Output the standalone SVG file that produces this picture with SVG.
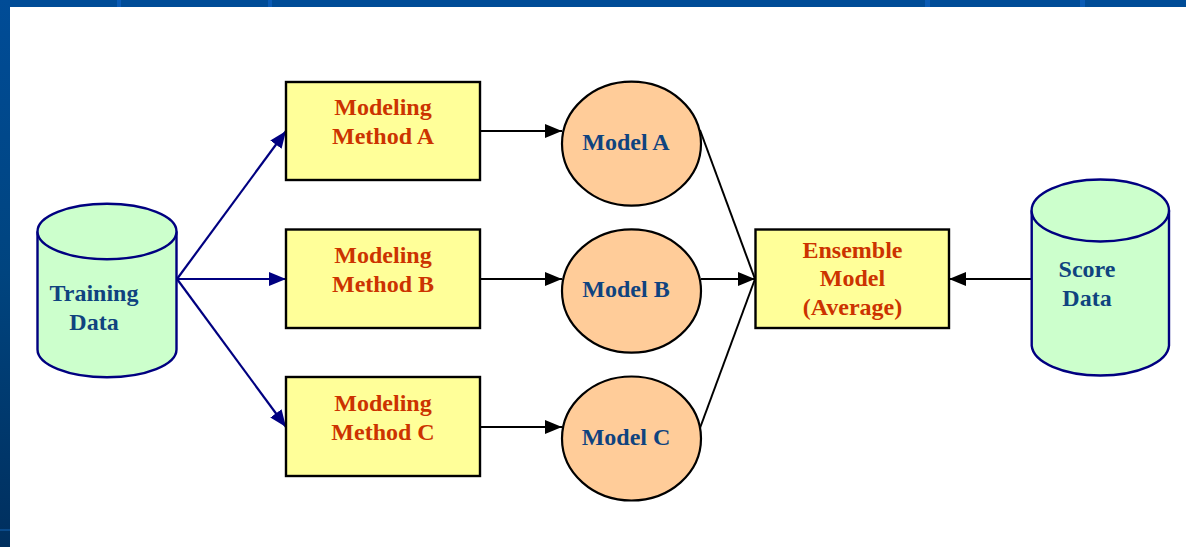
<svg xmlns="http://www.w3.org/2000/svg" width="1186" height="547" viewBox="0 0 1186 547">
  <defs>
    <linearGradient id="leftbar" x1="0" y1="0" x2="0" y2="1">
      <stop offset="0" stop-color="#004C97"/>
      <stop offset="0.5" stop-color="#00447F"/>
      <stop offset="1" stop-color="#002F5E"/>
    </linearGradient>
    <marker id="ahBlack" markerUnits="userSpaceOnUse" markerWidth="17" markerHeight="14" viewBox="0 0 17 14" refX="17" refY="7" orient="auto">
      <path d="M0,0 L17,7 L0,14 Z" fill="#000"/>
    </marker>
    <marker id="ahNavy" markerUnits="userSpaceOnUse" markerWidth="17" markerHeight="14" viewBox="0 0 17 14" refX="17" refY="7" orient="auto">
      <path d="M0,0 L17,7 L0,14 Z" fill="#000080"/>
    </marker>
    <style>
      .box { fill: #FFFF99; stroke: #000; stroke-width: 2.4; }
      .model { fill: #FFCC99; stroke: #000; stroke-width: 2.2; }
      .cyl { fill: #CCFFCC; stroke: #000080; stroke-width: 2.4; }
      .red { font-family: "Liberation Serif", serif; font-weight: bold; font-size: 24px; fill: #CC3300; text-anchor: middle; }
      .blue { font-family: "Liberation Serif", serif; font-weight: bold; font-size: 24px; fill: #0F437F; text-anchor: middle; }
      .blk { stroke: #000; stroke-width: 2; fill: none; }
      .nav { stroke: #000080; stroke-width: 2.2; fill: none; }
    </style>
  </defs>

  <g id="background">
    <rect x="0" y="0" width="1186" height="547" fill="#FFFFFF"/>
    <rect x="0" y="0" width="1186" height="7" fill="#004C97"/>
    <rect x="0" y="0" width="10" height="547" fill="url(#leftbar)"/>
    <rect x="117" y="0" width="4" height="7" fill="#0A5BB5"/>
    <rect x="268" y="0" width="4" height="7" fill="#0A5BB5"/>
    <rect x="925" y="0" width="5" height="7" fill="#0A5BB5"/>
    <rect x="1080" y="0" width="5" height="7" fill="#0A5BB5"/>
    <rect x="0" y="529" width="10" height="2" fill="#0A4A8A"/>
  </g>

  <g id="connectors">
    <line class="nav" x1="177" y1="279" x2="286" y2="131" marker-end="url(#ahNavy)"/>
    <line class="nav" x1="177" y1="279" x2="286" y2="279" marker-end="url(#ahNavy)"/>
    <line class="nav" x1="177" y1="279" x2="286" y2="427" marker-end="url(#ahNavy)"/>
    <line class="blk" x1="480" y1="131" x2="562" y2="131" marker-end="url(#ahBlack)"/>
    <line class="blk" x1="480" y1="279" x2="562" y2="279" marker-end="url(#ahBlack)"/>
    <line class="blk" x1="480" y1="427" x2="562" y2="427" marker-end="url(#ahBlack)"/>
    <line class="blk" x1="700" y1="130" x2="755" y2="279"/>
    <line class="blk" x1="700" y1="428" x2="755" y2="279"/>
    <line class="blk" x1="701" y1="279" x2="755" y2="279" marker-end="url(#ahBlack)"/>
    <line class="blk" x1="1032" y1="279" x2="949" y2="279" marker-end="url(#ahBlack)"/>
  </g>

  <g id="training-data">
    <path class="cyl" d="M37.5,231.5 L37.5,349.5 A69.5,27.7 0 0 0 176.5,349.5 L176.5,231.5"/>
    <ellipse class="cyl" cx="107" cy="231.5" rx="69.5" ry="27.7"/>
    <text class="blue" x="94" y="301">Training</text>
    <text class="blue" x="94" y="330">Data</text>
  </g>

  <g id="method-a">
    <rect class="box" x="286" y="82" width="194" height="98"/>
    <text class="red" x="383" y="115">Modeling</text>
    <text class="red" x="383" y="144">Method A</text>
  </g>
  <g id="method-b">
    <rect class="box" x="286" y="229.5" width="194" height="98.5"/>
    <text class="red" x="383" y="263">Modeling</text>
    <text class="red" x="383" y="292">Method B</text>
  </g>
  <g id="method-c">
    <rect class="box" x="286" y="377" width="194" height="99"/>
    <text class="red" x="383" y="411">Modeling</text>
    <text class="red" x="383" y="440">Method C</text>
  </g>

  <g id="model-a">
    <ellipse class="model" cx="631.5" cy="143.7" rx="69.5" ry="62"/>
    <text class="blue" x="626" y="150">Model A</text>
  </g>
  <g id="model-b">
    <ellipse class="model" cx="631.5" cy="291" rx="69.5" ry="61.7"/>
    <text class="blue" x="626" y="297">Model B</text>
  </g>
  <g id="model-c">
    <ellipse class="model" cx="631.5" cy="438.5" rx="69.5" ry="62"/>
    <text class="blue" x="626" y="445">Model C</text>
  </g>

  <g id="ensemble">
    <rect class="box" x="755.5" y="229.5" width="193.5" height="98.5"/>
    <text class="red" x="852.5" y="257.5">Ensemble</text>
    <text class="red" x="852.5" y="286">Model</text>
    <text class="red" x="852.5" y="315">(Average)</text>
  </g>

  <g id="score-data">
    <path class="cyl" d="M1031.7,210.5 L1031.7,345.7 A68.7,31 0 0 0 1169,345.7 L1169,210.5"/>
    <ellipse class="cyl" cx="1100.3" cy="210.5" rx="68.7" ry="31"/>
    <text class="blue" x="1087" y="277">Score</text>
    <text class="blue" x="1087" y="306">Data</text>
  </g>
</svg>
